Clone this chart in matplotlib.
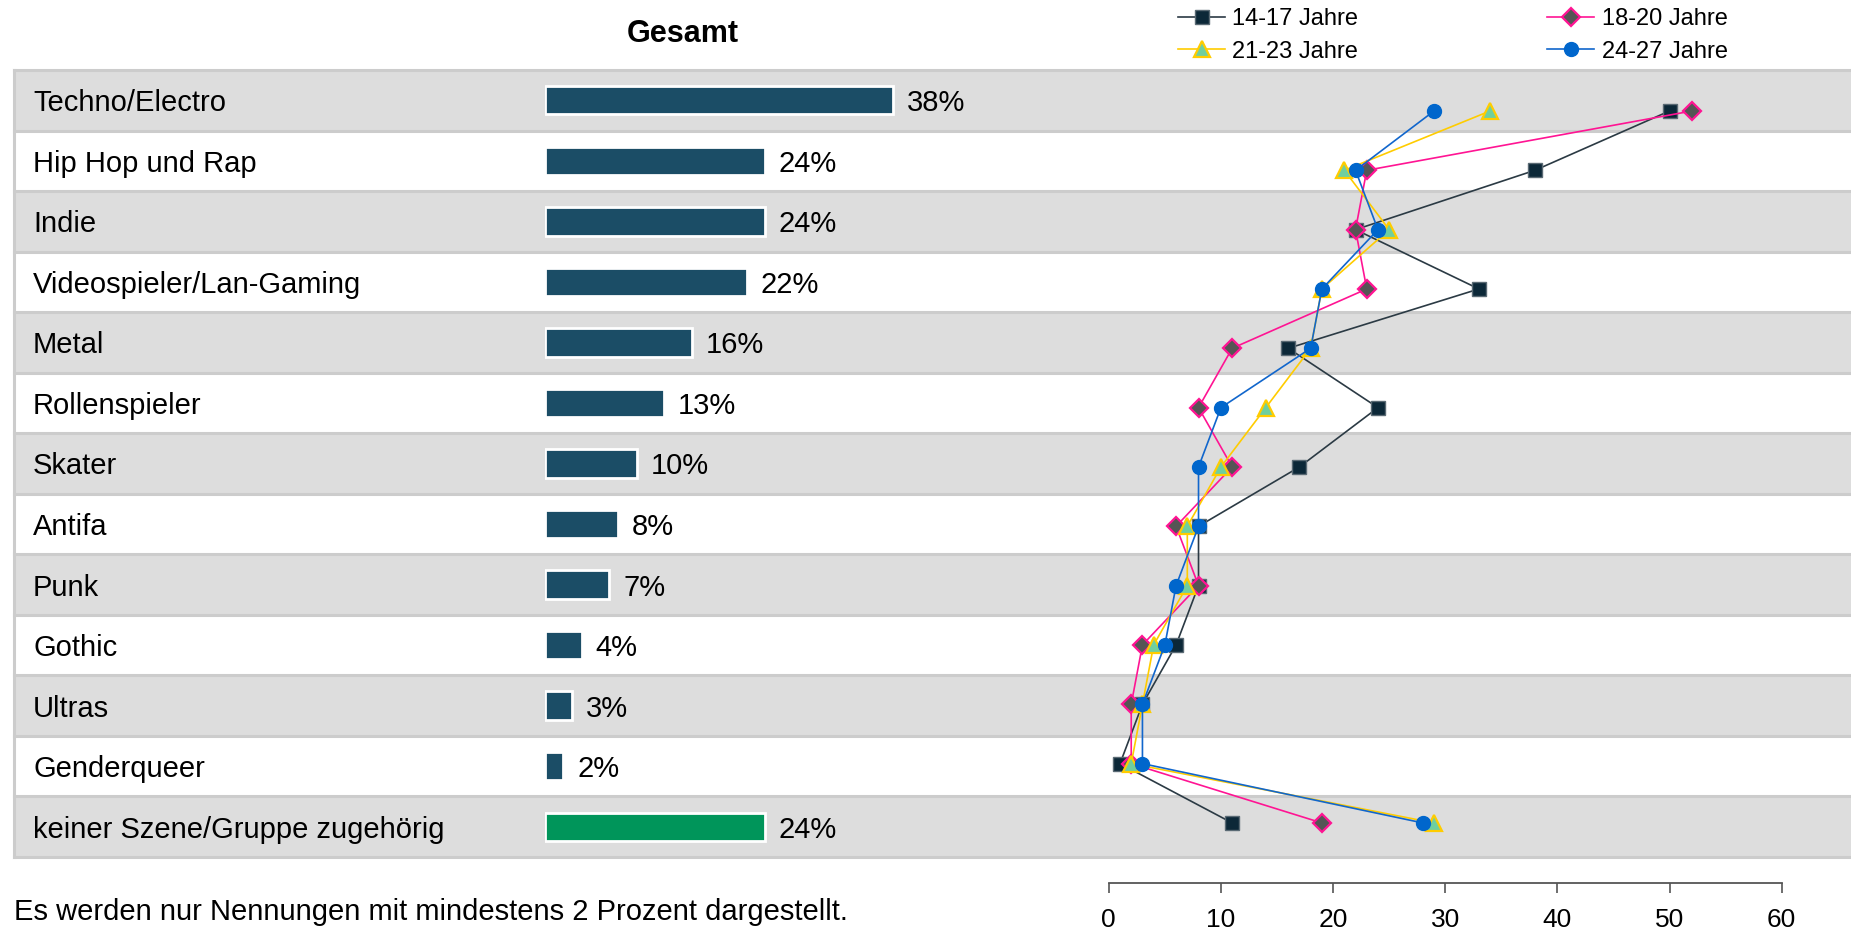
import matplotlib.pyplot as plt
import numpy as np

plt.rcParams['font.family'] = ['Liberation Sans', 'DejaVu Sans']

# Data
scenes = ["Techno/Electro", "Hip Hop und Rap", "Indie", "Videospieler/Lan-Gaming", "Metal",
          "Rollenspieler", "Skater", "Antifa", "Punk", "Gothic", "Ultras", "Genderqueer",
          "keiner Szene/Gruppe zugehörig"]
gesamt = [38, 24, 24, 22, 16, 13, 10, 8, 7, 4, 3, 2, 24]

age_groups = ["14-17 Jahre", "18-20 Jahre", "21-23 Jahre", "24-27 Jahre"]
age_14_17 = [50, 38, 22, 33, 16, 24, 17, 8, 8, 6, 3, 1, 11]
age_18_20 = [52, 23, 22, 23, 11, 8, 11, 6, 8, 3, 2, 2, 19]
age_21_23 = [34, 21, 25, 19, 18, 14, 10, 7, 7, 4, 3, 2, 29]
age_24_27 = [29, 22, 24, 19, 18, 10, 8, 8, 6, 5, 3, 3, 28]
x_ticks = [0, 10, 20, 30, 40, 50, 60]

W, H = 1851, 934
fig = plt.figure(figsize=(W / 100, H / 100), dpi=100)


def px_axes(left, top, right, bottom):
    # axes placed by pixel box (top-left origin)
    ax = fig.add_axes([left / W, 1 - bottom / H, (right - left) / W, (bottom - top) / H])
    ax.patch.set_alpha(0)
    return ax


n = len(scenes)
rows = np.arange(n)

# Striped table background
ax_bg = px_axes(14, 70, W, 857)
ax_bg.set_xlim(0, 1)
ax_bg.set_ylim(n - 0.5, -0.5)
ax_bg.axis('off')
for i in rows:
    if i % 2 == 0:
        ax_bg.axhspan(i - 0.5, i + 0.5, color='#dddddd', lw=0)
for i in range(n + 1):
    ax_bg.axhline(i - 0.5, color='#cccccc', lw=2.2, clip_on=False)
ax_bg.axvline(0, color='#cccccc', lw=2.2, clip_on=False)
trans = ax_bg.get_yaxis_transform()
for i, s in enumerate(scenes):
    ax_bg.text(19 / (W - 14), i, s, transform=trans, va='center_baseline', ha='left', fontsize=21)

# Bars (Gesamt)
ax_bar = px_axes(545, 70, 1000, 857)
ax_bar.set_xlim(0, (1000 - 545) / 9.16)
ax_bar.set_ylim(n - 0.5, -0.5)
ax_bar.axis('off')
colors = ['#1b4d66'] * (n - 1) + ['#00955a']
ax_bar.barh(rows, gesamt, height=0.47, color=colors, edgecolor='white', linewidth=2)
for i, v in enumerate(gesamt):
    ax_bar.annotate(f"{v}%", (v, i), xytext=(10, 0), textcoords='offset points',
                    va='center_baseline', ha='left', fontsize=21)

# Line chart by age group
ax_line = px_axes(1108.8, 81.3, 1781.7, 852.6)
ax_line.set_xlim(0, 60)
ax_line.set_ylim(n - 0.5, -0.5)
styles = [
    dict(color='#2b3a44', marker='s', mfc='#0c2838', mec='#5a6a74', ms=10, mew=1),
    dict(color='#ff1493', marker='D', mfc='#555555', mec='#ff1493', ms=9, mew=1.6),
    dict(color='#ffcc00', marker='^', mfc='#6fcf9f', mec='#ffcc00', ms=11, mew=1.6),
    dict(color='#1166cc', marker='o', mfc='#0066cc', mec='#0066cc', ms=10, mew=1),
]
series = [age_14_17, age_18_20, age_21_23, age_24_27]
handles = []
for vals, st, lab in zip(series, styles, age_groups):
    h, = ax_line.plot(vals, rows, lw=1.2, label=lab, clip_on=False, **st)
    handles.append(h)

for side in ['left', 'right', 'top']:
    ax_line.spines[side].set_visible(False)
ax_line.spines['bottom'].set_position(('outward', 22))
ax_line.spines['bottom'].set_color('#555555')
ax_line.spines['bottom'].set_linewidth(1.3)
ax_line.set_yticks([])
ax_line.set_xticks(x_ticks)
ax_line.tick_params(axis='x', direction='out', length=7, width=1.2, color='#555555',
                    labelsize=19, pad=11)

# Legend
fig.legend([handles[0], handles[2], handles[1], handles[3]],
           [age_groups[0], age_groups[2], age_groups[1], age_groups[3]],
           ncol=2, loc='upper left', bbox_to_anchor=(1178 / W, 1 - 8 / H),
           frameon=False, fontsize=17, handlelength=2.0, handletextpad=0.3,
           columnspacing=8.0, labelspacing=0.45, borderpad=0, borderaxespad=0)

fig.text(683 / W, 1 - 34 / H, "Gesamt", ha='center', va='center', fontsize=22, fontweight='bold')
fig.text(14 / W, 1 - 912 / H, "Es werden nur Nennungen mit mindestens 2 Prozent dargestellt.",
         ha='left', va='center', fontsize=21)

fig.savefig("out.png", dpi=100)
